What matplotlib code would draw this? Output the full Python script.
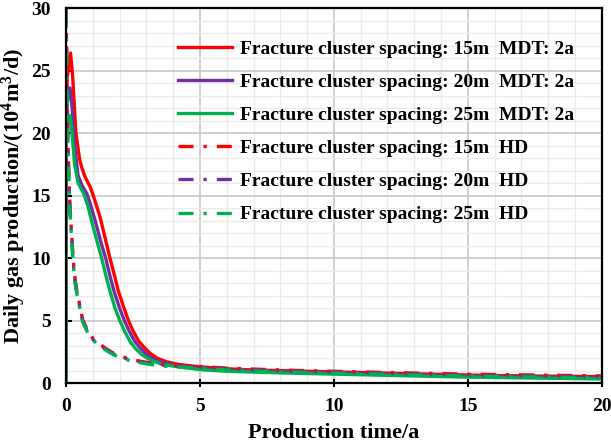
import matplotlib
matplotlib.use("Agg")
import matplotlib.pyplot as plt
from matplotlib.ticker import MultipleLocator

plt.rcParams['font.family'] = ['Liberation Serif', 'DejaVu Serif']
plt.rcParams['font.weight'] = 'bold'
plt.rcParams['mathtext.fontset'] = 'custom'
plt.rcParams['mathtext.rm'] = 'Liberation Serif:bold'
plt.rcParams['mathtext.default'] = 'rm'

# MDT curves (solid)
t_red = [0, 0.001, 0.05, 0.17, 0.25, 0.37, 0.5, 0.58, 0.71, 0.9, 1.02, 1.27, 1.45, 1.64, 1.8,
         1.95, 2.15, 2.33, 2.5, 2.7, 2.9, 3.13, 3.4, 3.76, 4.2, 5, 6, 7, 8, 9, 10, 12, 14, 15, 17, 20]
q_red = [0, 22.0, 24.5, 26.4, 24.5, 20.0, 18.0, 17.3, 16.5, 15.7, 15.0, 13.3, 11.7, 10.0, 8.7,
         7.4, 6.1, 5.0, 4.2, 3.4, 2.9, 2.4, 2.0, 1.7, 1.5, 1.3, 1.15, 1.05, 1.0, 0.95, 0.9, 0.8,
         0.7, 0.65, 0.58, 0.52]

t_purple = [0, 0.001, 0.05, 0.15, 0.23, 0.33, 0.45, 0.6, 0.77, 0.9, 1.1, 1.3, 1.48, 1.65, 1.8,
            2.0, 2.18, 2.35, 2.55, 2.75, 3.0, 3.3, 3.7, 4.2, 5, 6, 8, 10, 12, 15, 20]
q_purple = [0, 20.0, 22.5, 23.6, 22.0, 18.8, 16.6, 15.8, 15.2, 14.4, 12.9, 11.3, 10.0, 8.5, 7.3,
            6.0, 5.0, 4.2, 3.4, 2.85, 2.3, 1.9, 1.6, 1.4, 1.18, 1.03, 0.9, 0.8, 0.7, 0.57, 0.42]

t_green = [0, 0.001, 0.05, 0.15, 0.22, 0.32, 0.45, 0.65, 0.8, 1.0, 1.15, 1.33, 1.5, 1.65, 1.83,
           2.01, 2.2, 2.4, 2.6, 2.85, 3.15, 3.6, 4.2, 5, 6, 8, 10, 12, 15, 20]
q_green = [0, 18.5, 20.6, 21.4, 20.2, 17.5, 16.0, 15.2, 14.3, 12.6, 11.4, 10.0, 8.5, 7.3, 6.0,
           5.0, 4.1, 3.3, 2.75, 2.25, 1.85, 1.5, 1.3, 1.08, 0.95, 0.82, 0.72, 0.62, 0.48, 0.33]

# HD curves (dash-dot)
t_hd = [0, 0.03, 0.06, 0.1, 0.15, 0.2, 0.26, 0.32, 0.4, 0.48, 0.62, 0.83, 1.0, 1.21, 1.5,
        1.77, 2.05, 2.39, 2.75, 3.13, 3.76, 4.5, 5, 6, 8, 10, 12, 15, 20]
q_red_hd = [30.0, 26.0, 21.0, 17.0, 14.0, 12.3, 10.2, 8.6, 7.5, 6.6, 5.1, 4.1, 3.6, 3.2, 2.75,
            2.4, 2.15, 1.92, 1.76, 1.62, 1.45, 1.38, 1.34, 1.2, 1.05, 0.95, 0.85, 0.72, 0.58]
q_purple_hd = [29.8, 25.7, 20.7, 16.8, 13.8, 12.1, 10.0, 8.4, 7.3, 6.5, 5.0, 4.0, 3.5, 3.1, 2.68,
               2.33, 2.08, 1.86, 1.7, 1.56, 1.4, 1.32, 1.27, 1.13, 0.98, 0.88, 0.78, 0.64, 0.5]
q_green_hd = [29.6, 25.4, 20.4, 16.6, 13.6, 11.9, 9.8, 8.3, 7.2, 6.4, 4.9, 3.95, 3.45, 3.05, 2.62,
              2.28, 2.02, 1.8, 1.64, 1.5, 1.34, 1.26, 1.2, 1.06, 0.9, 0.8, 0.7, 0.56, 0.42]

labels = ["Fracture cluster spacing: 15m  MDT: 2a",
          "Fracture cluster spacing: 20m  MDT: 2a",
          "Fracture cluster spacing: 25m  MDT: 2a",
          "Fracture cluster spacing: 15m  HD",
          "Fracture cluster spacing: 20m  HD",
          "Fracture cluster spacing: 25m  HD"]

red, purple, green = "#ff0000", "#7030a0", "#00b050"
dd = (4.5, 3, 1, 3)
lw = 2.4

fig = plt.figure(figsize=(6.11, 4.45), dpi=100)
ax = fig.add_subplot(111)
fig.subplots_adjust(left=0.108, right=0.985, top=0.982, bottom=0.139)

ax.plot(t_red, q_red, color=red, lw=lw, label=labels[0])
ax.plot(t_purple, q_purple, color=purple, lw=lw, label=labels[1])
ax.plot(t_green, q_green, color=green, lw=lw, label=labels[2])
ax.plot(t_hd, q_red_hd, color=red, lw=lw, dashes=dd, label=labels[3])
ax.plot(t_hd, q_purple_hd, color=purple, lw=lw, dashes=dd, label=labels[4])
ax.plot(t_hd, q_green_hd, color=green, lw=lw, dashes=dd, label=labels[5])

ax.set_xlim(0, 20)
ax.set_ylim(0, 30)
ax.xaxis.set_major_locator(MultipleLocator(5))
ax.xaxis.set_minor_locator(MultipleLocator(1))
ax.yaxis.set_major_locator(MultipleLocator(5))
ax.yaxis.set_minor_locator(MultipleLocator(1))
ax.grid(which='major', color='#c8c8c8', lw=1.2, zorder=0)
ax.grid(which='minor', color='#ebebeb', lw=1.0, zorder=0)
ax.set_axisbelow(True)
ax.tick_params(which='minor', length=0)
ax.tick_params(axis='x', which='major', direction='inout', length=6, width=1.5, labelsize=14, pad=8)
ax.tick_params(axis='y', which='major', direction='in', length=4, width=1.5, labelsize=14, pad=11)
for s in ax.spines.values():
    s.set_linewidth(1.6)

ax.set_xlabel("Production time/a", fontsize=16, fontweight='bold')
ax.set_ylabel("Daily gas production/(10$^4$m$^3$/d)", fontsize=16, fontweight='bold')
ax.xaxis.set_label_coords(0.5, -0.105)
ax.yaxis.set_label_coords(-0.07, 0.5)

leg = ax.legend(loc='upper left', bbox_to_anchor=(0.209, 0.915), frameon=False, fontsize=14,
                handlelength=2.8, handletextpad=0.41, labelspacing=0.8, borderpad=0, borderaxespad=0)

fig.savefig("out.png", dpi=100)
